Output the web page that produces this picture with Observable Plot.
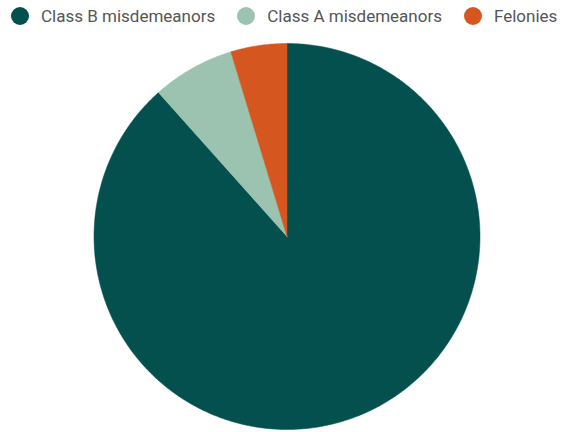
<!DOCTYPE html>
<html>
<head>
<meta charset="utf-8">
<script src="https://cdn.jsdelivr.net/npm/d3@7"></script>
<script src="https://cdn.jsdelivr.net/npm/@observablehq/plot@0.6"></script>
<style>
  html, body { margin: 0; padding: 0; background: #fff; }
  body { width: 566px; height: 432px; overflow: hidden; font-family: Roboto, "Noto Sans", sans-serif; }
  #legend { display: flex; align-items: center; height: 32px; padding-left: 11px; box-sizing: border-box; white-space: nowrap; }
  .item { display: flex; align-items: center; margin-right: 22px; font-size: 17px; color: #555; }
  .dot { width: 18px; height: 18px; border-radius: 50%; margin-right: 12px; flex: none; }
</style>
</head>
<body>
<div id="legend"></div>
<div id="chart"></div>
<script>
const categories = ["Class B misdemeanors", "Class A misdemeanors", "Felonies"];
const shares = [88.4, 6.9, 4.7];
const colors = ["#03504f", "#9cc2b0", "#d5561f"];

const pie = d3.pie().sort(null).value(d => d.value);
const arcs = pie(categories.map((c, i) => ({category: c, value: shares[i]})));

// polygon vertices for each slice (unit circle, data space)
const pts = [];
for (const a of arcs) {
  const c = a.data.category;
  pts.push({category: c, x: 0, y: 0});
  const n = Math.max(4, Math.ceil((a.endAngle - a.startAngle) / 0.01));
  for (let k = 0; k <= n; k++) {
    const t = a.startAngle + (a.endAngle - a.startAngle) * k / n;
    pts.push({category: c, x: Math.sin(t), y: Math.cos(t)});
  }
  pts.push({category: c, x: 0, y: 0});
}

const color = {type: "ordinal", domain: categories, range: colors};

const chart = Plot.plot({
  width: 566,
  height: 400,
  margin: 0,
  x: {domain: [-1, 1], range: [93.5, 479.5], axis: null},
  y: {domain: [-1, 1], range: [397, 11], axis: null},
  color,
  marks: [
    Plot.line(pts, {x: "x", y: "y", z: "category", fill: "category", stroke: "category", strokeWidth: 0.5, curve: "linear"})
  ]
});
document.getElementById("chart").appendChild(chart);

const legend = document.getElementById("legend");
const scale = chart.scale("color");
categories.forEach(c => {
  const item = document.createElement("div");
  item.className = "item";
  const dot = document.createElement("span");
  dot.className = "dot";
  dot.style.background = scale.apply(c);
  const label = document.createElement("span");
  label.textContent = c;
  item.appendChild(dot);
  item.appendChild(label);
  legend.appendChild(item);
});
</script>
</body>
</html>
